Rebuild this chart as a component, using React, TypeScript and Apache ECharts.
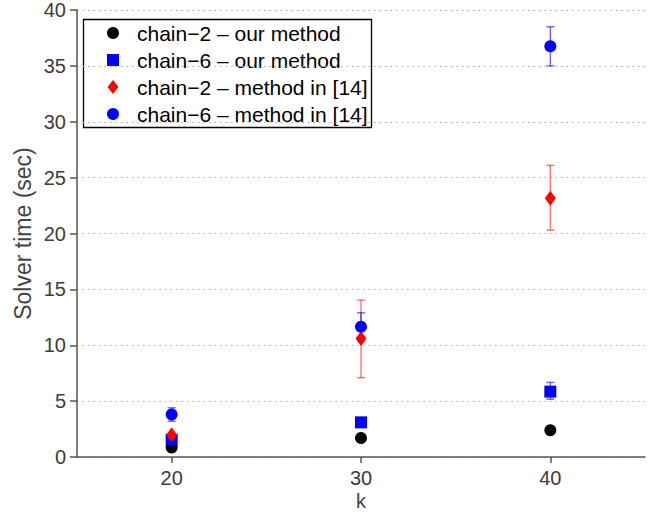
import React, { useEffect, useRef } from "react";
import * as echarts from "echarts";

const kValues = [20, 30, 40];
const xTicks = [20, 30, 40];

const chain2Ours = [0.85, 1.7, 2.4];
const chain6Ours = [1.55, 3.1, 5.85];
const chain6OursLo = [1.55, 3.1, 5.17];
const chain6OursHi = [1.55, 3.1, 6.67];

const chain2Ref = [2.0, 10.6, 23.15];
const chain2RefLo = [2.0, 7.1, 20.3];
const chain2RefHi = [2.0, 14.04, 26.1];

const chain6Ref = [3.8, 11.65, 36.75];
const chain6RefLo = [3.2, 10.4, 35.0];
const chain6RefHi = [4.4, 12.9, 38.5];

const legendLabels = [
  "chain\u22122 \u2013 our method",
  "chain\u22126 \u2013 our method",
  "chain\u22122 \u2013 method in [14]",
  "chain\u22126 \u2013 method in [14]",
];

const FONT = "'Liberation Sans', Arial, Helvetica, sans-serif";

function errSeries(lo: number[], hi: number[], color: string) {
  return {
    type: "custom",
    silent: true,
    data: kValues.map((k, i) => [k, lo[i], hi[i]]),
    encode: { x: 0, y: [1, 2] },
    renderItem: (params: any, api: any) => {
      const x = api.value(0);
      const l = api.value(1);
      const h = api.value(2);
      if (l === h) return { type: "group", children: [] };
      const pl = api.coord([x, l]);
      const ph = api.coord([x, h]);
      const cw = 4;
      const style = { stroke: color, lineWidth: 1.4 };
      return {
        type: "group",
        children: [
          { type: "line", shape: { x1: pl[0], y1: pl[1], x2: ph[0], y2: ph[1] }, style },
          { type: "line", shape: { x1: pl[0] - cw, y1: pl[1], x2: pl[0] + cw, y2: pl[1] }, style },
          { type: "line", shape: { x1: ph[0] - cw, y1: ph[1], x2: ph[0] + cw, y2: ph[1] }, style },
        ],
      };
    },
  };
}

export default function App() {
  const ref = useRef<HTMLDivElement>(null);
  useEffect(() => {
    if (!ref.current) return;
    const chart = echarts.init(ref.current, null, { renderer: "svg" });
    const rowY = [33, 60, 87, 114];
    const iconX = 113;
    const legendChildren: any[] = [
      {
        type: "rect",
        shape: { x: 83.5, y: 19.5, width: 288, height: 108 },
        style: { fill: "#fff", stroke: "#000", lineWidth: 1.3 },
      },
      { type: "circle", shape: { cx: iconX, cy: rowY[0], r: 6 }, style: { fill: "#000" } },
      { type: "rect", shape: { x: iconX - 6, y: rowY[1] - 6, width: 12, height: 12 }, style: { fill: "#0000ff" } },
      {
        type: "polygon",
        shape: {
          points: [
            [iconX, rowY[2] - 7],
            [iconX + 5.5, rowY[2]],
            [iconX, rowY[2] + 7],
            [iconX - 5.5, rowY[2]],
          ],
        },
        style: { fill: "#ff0000" },
      },
      { type: "circle", shape: { cx: iconX, cy: rowY[3], r: 6 }, style: { fill: "#0000ff" } },
    ];
    legendLabels.forEach((t, i) => {
      legendChildren.push({
        type: "text",
        x: 137,
        y: rowY[i],
        style: {
          text: t,
          fill: "#000",
          font: `21px ${FONT}`,
          verticalAlign: "middle",
          align: "left",
        },
      });
    });

    chart.setOption({
      animation: false,
      backgroundColor: "#fff",
      grid: { left: 77, right: 11, top: 10, bottom: 55, containLabel: false, outerBoundsMode: "none" },
      xAxis: {
        type: "value",
        min: 15,
        max: 45,
        name: "k",
        nameLocation: "middle",
        nameGap: 34,
        nameMoveOverlap: false,
        nameTextStyle: { fontSize: 20, color: "#444", fontFamily: FONT },
        axisLine: { show: true, onZero: false, lineStyle: { color: "#555", width: 1.5 } },
        axisTick: { show: true, length: 6, customValues: xTicks, lineStyle: { color: "#555", width: 1.5 } },
        axisLabel: {
          customValues: xTicks,
          fontSize: 20,
          color: "#3c3c3c",
          fontFamily: FONT,
          margin: 11,
        },
        splitLine: { show: false },
      },
      yAxis: {
        type: "value",
        min: 0,
        max: 40,
        interval: 5,
        name: "Solver time (sec)",
        nameLocation: "middle",
        nameGap: 43,
        nameMoveOverlap: false,
        nameTextStyle: { fontSize: 23, color: "#444", fontFamily: FONT },
        axisLine: { show: true, lineStyle: { color: "#555", width: 1.5 } },
        axisTick: { show: true, length: 7, lineStyle: { color: "#555", width: 1.5 } },
        axisLabel: { fontSize: 20, color: "#3c3c3c", fontFamily: FONT, margin: 11 },
        splitLine: {
          show: true,
          lineStyle: { color: "#aaa", width: 1.2, type: [1.5, 4] },
        },
      },
      series: [
        {
          type: "scatter",
          name: legendLabels[0],
          symbol: "circle",
          symbolSize: 12,
          itemStyle: { color: "#000", opacity: 1 },
          data: kValues.map((k, i) => [k, chain2Ours[i]]),
        },
        errSeries(chain6OursLo, chain6OursHi, "rgba(0,0,255,0.6)"),
        {
          type: "scatter",
          name: legendLabels[1],
          symbol: "rect",
          symbolSize: 12,
          itemStyle: { color: "#0000ff", opacity: 1 },
          data: kValues.map((k, i) => [k, chain6Ours[i]]),
        },
        errSeries(chain2RefLo, chain2RefHi, "rgba(255,0,0,0.55)"),
        {
          type: "scatter",
          name: legendLabels[2],
          symbol: "diamond",
          symbolSize: [11, 15],
          itemStyle: { color: "#ff0000", opacity: 1 },
          data: kValues.map((k, i) => [k, chain2Ref[i]]),
        },
        errSeries(chain6RefLo, chain6RefHi, "rgba(0,0,255,0.6)"),
        {
          type: "scatter",
          name: legendLabels[3],
          symbol: "circle",
          symbolSize: 12,
          itemStyle: { color: "#0000ff", opacity: 1 },
          data: kValues.map((k, i) => [k, chain6Ref[i]]),
        },
      ],
      graphic: [{ type: "group", z: 100, children: legendChildren }],
    });
    return () => chart.dispose();
  }, []);
  return (
    <div
      ref={ref}
      style={{ position: "fixed", left: 0, top: 0, width: 656, height: 512, background: "#fff" }}
    />
  );
}
